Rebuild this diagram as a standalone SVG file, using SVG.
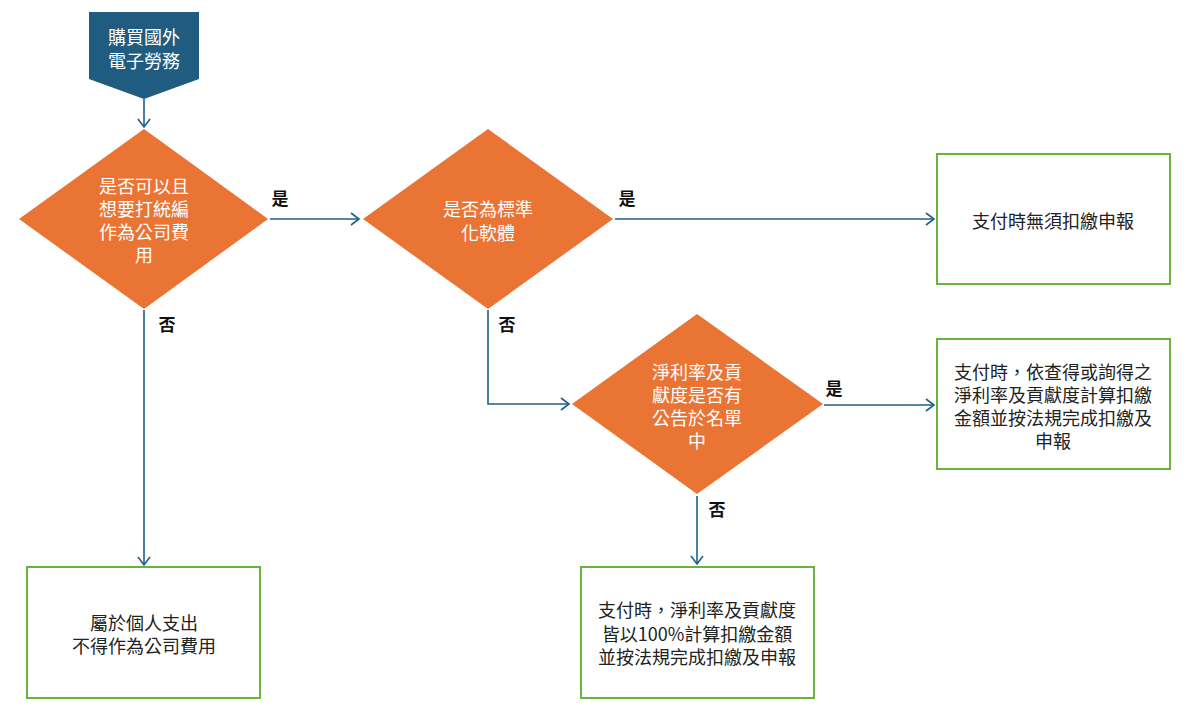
<svg xmlns="http://www.w3.org/2000/svg" width="1200" height="712" viewBox="0 0 1200 712">
<defs>
<marker id="arr" markerWidth="12" markerHeight="14" refX="9" refY="7" orient="auto" markerUnits="userSpaceOnUse">
<path d="M1,1 L9,7 L1,13" fill="none" stroke="#1f5f86" stroke-width="1.6"/>
</marker>
<style>
.line{fill:none;stroke:#1f5f86;stroke-width:1.6;marker-end:url(#arr)}
.dia{fill:#e97434}
.box{fill:#fff;stroke:#6bb33f;stroke-width:2}
.start{fill:#1f5c7f}
.wt{font-family:"Noto Sans CJK TC","Noto Sans CJK SC",sans-serif;font-size:18px;fill:#fff;text-anchor:middle;dominant-baseline:central}
.bt{font-family:"Noto Sans CJK TC","Noto Sans CJK SC",sans-serif;font-size:18px;fill:#222;text-anchor:middle;dominant-baseline:central}
.lb{font-family:"Noto Sans CJK TC","Noto Sans CJK SC",sans-serif;font-size:17px;font-weight:bold;fill:#111;text-anchor:middle;dominant-baseline:central}
</style>
</defs>
<rect width="1200" height="712" fill="#fff"/>
<g id="connectors">
<path class="line" d="M144,99 L144,127"/>
<path class="line" d="M144,310 L144,565"/>
<path class="line" d="M270,219 L359,219"/>
<path class="line" d="M615,219 L934,219"/>
<path class="line" d="M488,310 L488,404 L569,404"/>
<path class="line" d="M824,405 L934,405"/>
<path class="line" d="M697,496 L697,564"/>
<text class="lb" x="280" y="197">是</text>
<text class="lb" x="627" y="197">是</text>
<text class="lb" x="167" y="323">否</text>
<text class="lb" x="507" y="323">否</text>
<text class="lb" x="834" y="387">是</text>
<text class="lb" x="717" y="508">否</text>
</g>
<g id="start">
<polygon class="start" points="89,12 199,12 199,79 144,99 89,79"/>
<text class="wt" x="144" y="36">購買國外</text>
<text class="wt" x="144" y="60">電子勞務</text>
</g>
<g id="d1">
<polygon class="dia" points="144,129 268,219 144,309 19,219"/>
<text class="wt" x="144" y="185">是否可以且</text>
<text class="wt" x="144" y="208">想要打統編</text>
<text class="wt" x="144" y="231">作為公司費</text>
<text class="wt" x="144" y="254">用</text>
</g>
<g id="d2">
<polygon class="dia" points="488,129 613,219 488,309 363,219"/>
<text class="wt" x="488" y="208">是否為標準</text>
<text class="wt" x="488" y="232">化軟體</text>
</g>
<g id="d3">
<polygon class="dia" points="697,314 823,404 697,494 572,404"/>
<text class="wt" x="697" y="371">淨利率及貢</text>
<text class="wt" x="697" y="394">獻度是否有</text>
<text class="wt" x="697" y="417">公告於名單</text>
<text class="wt" x="697" y="440">中</text>
</g>
<g id="b1">
<rect class="box" x="937" y="154" width="233" height="130"/>
<text class="bt" x="1053" y="220">支付時無須扣繳申報</text>
</g>
<g id="b2">
<rect class="box" x="937" y="339" width="233" height="130"/>
<text class="bt" x="1053" y="371">支付時，依查得或詢得之</text>
<text class="bt" x="1053" y="394">淨利率及貢獻度計算扣繳</text>
<text class="bt" x="1053" y="417">金額並按法規完成扣繳及</text>
<text class="bt" x="1053" y="440">申報</text>
</g>
<g id="b3">
<rect class="box" x="581" y="567" width="233" height="131"/>
<text class="bt" x="697" y="609">支付時，淨利率及貢獻度</text>
<text class="bt" x="697" y="633">皆以100%計算扣繳金額</text>
<text class="bt" x="697" y="656">並按法規完成扣繳及申報</text>
</g>
<g id="b4">
<rect class="box" x="27" y="567" width="233" height="131"/>
<text class="bt" x="144" y="622">屬於個人支出</text>
<text class="bt" x="144" y="645">不得作為公司費用</text>
</g>
</svg>
